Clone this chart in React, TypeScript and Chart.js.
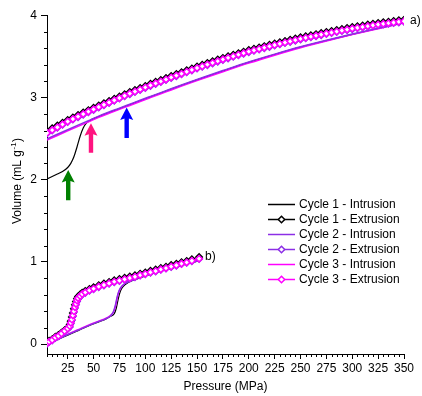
import React, { useEffect, useRef } from "react";
import { Chart, registerables } from "chart.js";

Chart.register(...registerables);

const FONT = '"Liberation Sans", Arial, sans-serif';

// ---------- axis ticks ----------
const X_MAJOR = [25, 50, 75, 100, 125, 150, 175, 200, 225, 250, 275, 300, 325, 350];
const Y_MAJOR = [0, 1, 2, 3, 4];

// ---------- series a) ----------
const P_EXT_A = [
  5, 10, 15, 20, 25, 30, 35, 40, 45, 50,
  55, 60, 65, 70, 75, 80, 85, 90, 95, 100,
  105, 110, 115, 120, 125, 130, 135, 140, 145, 150,
  155, 160, 165, 170, 175, 180, 185, 190, 195, 200,
  205, 210, 215, 220, 225, 230, 235, 240, 245, 250,
  255, 260, 265, 270, 275, 280, 285, 290, 295, 300,
  305, 310, 315, 320, 325, 330, 335, 340, 345, 350,
];
const C1_EXT_A = [
  2.595, 2.627, 2.66, 2.694, 2.728, 2.758, 2.788, 2.818, 2.848, 2.876,
  2.904, 2.932, 2.96, 2.987, 3.014, 3.041, 3.068, 3.093, 3.118, 3.143,
  3.168, 3.192, 3.216, 3.24, 3.264, 3.287, 3.31, 3.333, 3.356, 3.379,
  3.4, 3.421, 3.442, 3.463, 3.484, 3.503, 3.522, 3.541, 3.56, 3.579,
  3.595, 3.611, 3.627, 3.643, 3.659, 3.674, 3.689, 3.704, 3.719, 3.734,
  3.747, 3.76, 3.773, 3.786, 3.799, 3.811, 3.823, 3.835, 3.847, 3.859,
  3.869, 3.879, 3.889, 3.899, 3.909, 3.917, 3.925, 3.933, 3.941, 3.949,
];
const C2_EXT_A = [
  2.565, 2.6, 2.635, 2.669, 2.703, 2.733, 2.763, 2.793, 2.823, 2.851,
  2.879, 2.907, 2.935, 2.962, 2.989, 3.016, 3.043, 3.068, 3.093, 3.118,
  3.143, 3.167, 3.191, 3.215, 3.239, 3.262, 3.285, 3.308, 3.331, 3.354,
  3.375, 3.396, 3.417, 3.438, 3.459, 3.478, 3.497, 3.516, 3.535, 3.554,
  3.57, 3.586, 3.602, 3.618, 3.634, 3.649, 3.664, 3.679, 3.694, 3.709,
  3.722, 3.735, 3.748, 3.761, 3.774, 3.786, 3.798, 3.81, 3.822, 3.834,
  3.844, 3.854, 3.864, 3.874, 3.884, 3.892, 3.9, 3.908, 3.916, 3.924,
];
const C3_EXT_A = [
  2.57, 2.605, 2.64, 2.675, 2.71, 2.74, 2.77, 2.8, 2.83, 2.858,
  2.886, 2.914, 2.942, 2.969, 2.996, 3.023, 3.05, 3.075, 3.1, 3.125,
  3.15, 3.174, 3.198, 3.222, 3.246, 3.269, 3.292, 3.315, 3.338, 3.361,
  3.382, 3.403, 3.424, 3.445, 3.466, 3.485, 3.504, 3.523, 3.542, 3.561,
  3.577, 3.593, 3.609, 3.625, 3.641, 3.656, 3.671, 3.686, 3.701, 3.716,
  3.729, 3.742, 3.755, 3.768, 3.781, 3.793, 3.805, 3.817, 3.829, 3.841,
  3.851, 3.861, 3.871, 3.881, 3.891, 3.899, 3.907, 3.915, 3.923, 3.931,
];
const P_INT_A = [5, 15, 25, 35, 45, 55, 65, 75, 85, 95, 105, 120, 135, 150, 175, 200, 225, 250, 275, 300, 325, 350];
const C2_INT_A = [2.5, 2.555, 2.61, 2.665, 2.72, 2.775, 2.825, 2.872, 2.92, 2.968, 3.015, 3.085, 3.155, 3.222, 3.33, 3.435, 3.53, 3.62, 3.7, 3.775, 3.845, 3.915];
const C3_INT_A = [2.485, 2.54, 2.595, 2.65, 2.705, 2.76, 2.81, 2.858, 2.905, 2.953, 3.0, 3.07, 3.14, 3.207, 3.315, 3.42, 3.517, 3.608, 3.69, 3.767, 3.84, 3.912];
const P_C1_INT_A = [5, 10, 15, 20, 25, 28, 31, 34, 37, 40, 43, 47, 50, 55, 65, 75, 85, 95, 105, 120, 135, 150, 175, 200, 225, 250, 275, 300, 325, 350];
const C1_INT_A = [2.01, 2.04, 2.07, 2.1, 2.15, 2.2, 2.28, 2.4, 2.53, 2.63, 2.69, 2.725, 2.745, 2.77, 2.82, 2.866, 2.914, 2.962, 3.01, 3.08, 3.15, 3.217, 3.325, 3.43, 3.525, 3.615, 3.695, 3.77, 3.842, 3.913];

// ---------- series b) ----------
const P_EXT_B = [5, 7, 10, 13, 16, 19, 22, 25, 27, 28, 29, 30, 31, 32, 33, 34, 35, 37, 39, 42, 46, 50, 55, 60, 65, 70, 75, 80, 85, 90, 95, 100, 105, 110, 115, 120, 125, 130, 135, 140, 145, 152];
const C1_EXT_B = [0.02, 0.04, 0.06, 0.09, 0.11, 0.14, 0.17, 0.2, 0.24, 0.28, 0.33, 0.38, 0.43, 0.48, 0.52, 0.555, 0.58, 0.605, 0.625, 0.648, 0.672, 0.692, 0.717, 0.737, 0.757, 0.776, 0.792, 0.807, 0.822, 0.838, 0.857, 0.872, 0.892, 0.907, 0.927, 0.942, 0.962, 0.977, 0.997, 1.012, 1.032, 1.06];
const C2_EXT_B = [0.005, 0.025, 0.045, 0.075, 0.095, 0.125, 0.155, 0.185, 0.21, 0.25, 0.29, 0.34, 0.39, 0.44, 0.48, 0.52, 0.55, 0.578, 0.603, 0.624, 0.649, 0.669, 0.694, 0.714, 0.734, 0.754, 0.77, 0.785, 0.8, 0.815, 0.835, 0.85, 0.87, 0.885, 0.905, 0.92, 0.94, 0.955, 0.975, 0.99, 1.01, 1.035];
const C3_EXT_B = [0.01, 0.03, 0.05, 0.08, 0.1, 0.13, 0.16, 0.19, 0.22, 0.26, 0.3, 0.35, 0.4, 0.45, 0.49, 0.53, 0.56, 0.585, 0.61, 0.63, 0.655, 0.675, 0.7, 0.72, 0.74, 0.76, 0.775, 0.79, 0.805, 0.82, 0.84, 0.855, 0.875, 0.89, 0.91, 0.925, 0.945, 0.96, 0.98, 0.995, 1.015, 1.04];
const P_INT_B = [5, 15, 25, 35, 45, 55, 62, 66, 69, 71, 72.5, 74, 76, 80, 90, 100, 110, 120, 130, 140, 152];
const C2_INT_B = [-0.005, 0.055, 0.115, 0.17, 0.225, 0.275, 0.31, 0.34, 0.39, 0.47, 0.56, 0.63, 0.685, 0.735, 0.79, 0.835, 0.875, 0.91, 0.945, 0.98, 1.02];
const C3_INT_B = [0.0, 0.06, 0.12, 0.175, 0.23, 0.28, 0.315, 0.345, 0.385, 0.45, 0.54, 0.62, 0.68, 0.735, 0.79, 0.835, 0.875, 0.91, 0.945, 0.98, 1.02];
const P_C1_INT_B = [5, 15, 25, 35, 45, 55, 62, 66, 70, 72, 73.5, 75, 77, 81, 90, 100, 110, 120, 130, 140, 152];
const C1_INT_B = [0.0, 0.055, 0.11, 0.165, 0.22, 0.27, 0.305, 0.335, 0.37, 0.44, 0.53, 0.61, 0.675, 0.73, 0.785, 0.83, 0.87, 0.905, 0.94, 0.975, 1.015];

// ---------- legend & annotations ----------
const LEGEND_LABELS = [
  "Cycle 1 - Intrusion",
  "Cycle 1 - Extrusion",
  "Cycle 2 - Intrusion",
  "Cycle 2 - Extrusion",
  "Cycle 3 - Intrusion",
  "Cycle 3 - Extrusion",
];
const BLACK = "#000000";
const VIOLET = "#8c2ee6";
const MAGENTA = "#ff00ff";
const LEGEND_COLORS = [BLACK, BLACK, VIOLET, VIOLET, MAGENTA, MAGENTA];
const LEGEND_MARKER = [false, true, false, true, false, true];

const ARROW_P = [25.5, 47.5, 82];
const ARROW_TIP = [2.12, 2.69, 2.88];
const ARROW_BASE = [1.75, 2.33, 2.51];
const ARROW_COLORS = ["#008000", "#ff1480", "#0000ff"];

const PANEL_LABELS = ["a)", "b)"];
const PANEL_P = [350, 152];
const PANEL_V = [3.94, 1.07];

const pts = (xs: number[], ys: number[]) => xs.map((x, i) => ({ x, y: ys[i] }));

function lineDs(xs: number[], ys: number[], color: string, order: number, width = 1.5) {
  return {
    data: pts(xs, ys),
    showLine: true,
    borderColor: color,
    backgroundColor: color,
    borderWidth: width,
    pointRadius: 0,
    cubicInterpolationMode: "monotone" as const,
    order,
  };
}
function extDs(xs: number[], ys: number[], color: string, order: number) {
  return {
    data: pts(xs, ys),
    showLine: true,
    borderColor: color,
    backgroundColor: "#ffffff",
    borderWidth: 1.5,
    pointStyle: "rectRot" as const,
    pointRadius: 3.2,
    pointBorderWidth: 1.5,
    pointBorderColor: color,
    pointBackgroundColor: "#ffffff",
    cubicInterpolationMode: "monotone" as const,
    order,
  };
}

const decor = {
  id: "decor",
  afterDraw(chart: any) {
    const ctx = chart.ctx as CanvasRenderingContext2D;
    const xs = chart.scales.x;
    const ys = chart.scales.y;
    const area = chart.chartArea;
    ctx.save();
    // minor ticks
    ctx.strokeStyle = "#000";
    ctx.lineWidth = 1;
    ctx.beginPath();
    for (let v = 5; v <= 350; v += 5) {
      if (v % 25 === 0) continue;
      const px = Math.round(xs.getPixelForValue(v)) + 0.5;
      ctx.moveTo(px, area.bottom);
      ctx.lineTo(px, area.bottom + 3);
    }
    for (let k = 1; k < 20; k++) {
      if (k % 5 === 0) continue;
      const py = Math.round(ys.getPixelForValue(k * 0.2)) + 0.5;
      ctx.moveTo(area.left, py);
      ctx.lineTo(area.left - 3, py);
    }
    ctx.stroke();

    // arrows
    for (let i = 0; i < ARROW_P.length; i++) {
      const x = xs.getPixelForValue(ARROW_P[i]);
      const yt = ys.getPixelForValue(ARROW_TIP[i]);
      const yb = ys.getPixelForValue(ARROW_BASE[i]);
      const hw = 6.5, hl = 12.5, sw = 2.2;
      ctx.fillStyle = ARROW_COLORS[i];
      ctx.beginPath();
      ctx.moveTo(x, yt);
      ctx.lineTo(x + hw, yt + hl);
      ctx.lineTo(x + sw, yt + hl - 1.5);
      ctx.lineTo(x + sw, yb);
      ctx.lineTo(x - sw, yb);
      ctx.lineTo(x - sw, yt + hl - 1.5);
      ctx.lineTo(x - hw, yt + hl);
      ctx.closePath();
      ctx.fill();
    }

    // panel labels
    ctx.fillStyle = "#000";
    ctx.font = `12px ${FONT}`;
    ctx.textAlign = "left";
    ctx.textBaseline = "middle";
    for (let i = 0; i < PANEL_LABELS.length; i++) {
      ctx.fillText(PANEL_LABELS[i], xs.getPixelForValue(PANEL_P[i]) + 6, ys.getPixelForValue(PANEL_V[i]));
    }

    // legend
    const lx0 = 268, lx1 = 295, tx = 299, ly0 = 204.5, dy = 15;
    for (let i = 0; i < LEGEND_LABELS.length; i++) {
      const y = ly0 + i * dy;
      ctx.strokeStyle = LEGEND_COLORS[i];
      ctx.lineWidth = 1.5;
      ctx.beginPath();
      ctx.moveTo(lx0, y);
      ctx.lineTo(lx1, y);
      ctx.stroke();
      if (LEGEND_MARKER[i]) {
        const cx = (lx0 + lx1) / 2, r = 3.2;
        ctx.fillStyle = "#fff";
        ctx.beginPath();
        ctx.moveTo(cx, y - r);
        ctx.lineTo(cx + r, y);
        ctx.lineTo(cx, y + r);
        ctx.lineTo(cx - r, y);
        ctx.closePath();
        ctx.fill();
        ctx.stroke();
      }
      ctx.fillStyle = "#000";
      ctx.fillText(LEGEND_LABELS[i], tx, y + 0.5);
    }

    // x title
    ctx.textAlign = "center";
    ctx.fillText("Pressure (MPa)", (area.left + area.right) / 2, 387);

    // y title with superscript
    const main = "Volume (mL g";
    const sup = "-1";
    const close = ")";
    ctx.font = `12px ${FONT}`;
    const w1 = ctx.measureText(main).width;
    const w3 = ctx.measureText(close).width;
    ctx.font = `8px ${FONT}`;
    const w2 = ctx.measureText(sup).width;
    const total = w1 + w2 + w3 + 1;
    ctx.translate(18, 181);
    ctx.rotate(-Math.PI / 2);
    ctx.textAlign = "left";
    let x0 = -total / 2;
    ctx.font = `12px ${FONT}`;
    ctx.fillText(main, x0, 0);
    ctx.font = `8px ${FONT}`;
    ctx.fillText(sup, x0 + w1 + 0.5, -4);
    ctx.font = `12px ${FONT}`;
    ctx.fillText(close, x0 + w1 + w2 + 1, 0);
    ctx.restore();
  },
};

export default function App() {
  const ref = useRef<HTMLCanvasElement | null>(null);
  useEffect(() => {
    document.body.style.margin = "0";
    if (!ref.current) return;
    const datasets: any[] = [
      extDs(P_EXT_B, C3_EXT_B, MAGENTA, 0),
      extDs(P_EXT_A, C3_EXT_A, MAGENTA, 0),
      extDs(P_EXT_B, C2_EXT_B, VIOLET, 1),
      extDs(P_EXT_A, C2_EXT_A, VIOLET, 1),
      extDs(P_EXT_B, C1_EXT_B, BLACK, 2),
      extDs(P_EXT_A, C1_EXT_A, BLACK, 2),
      lineDs(P_INT_A, C2_INT_A, VIOLET, 3),
      lineDs(P_INT_B, C2_INT_B, VIOLET, 3),
      lineDs(P_INT_A, C3_INT_A, MAGENTA, 4),
      lineDs(P_INT_B, C3_INT_B, MAGENTA, 4),
      lineDs(P_C1_INT_A, C1_INT_A, BLACK, 5, 1.2),
      lineDs(P_C1_INT_B, C1_INT_B, BLACK, 5, 1.2),
    ];
    const chart = new Chart(ref.current, {
      type: "scatter",
      data: { datasets },
      options: {
        responsive: false,
        animation: false,
        events: [],
        layout: { padding: { left: 0, top: 15.5, right: 18, bottom: 0 } },
        plugins: { legend: { display: false }, tooltip: { enabled: false } },
        scales: {
          x: {
            type: "linear",
            min: 5,
            max: 350,
            afterBuildTicks: (s: any) => {
              s.ticks = X_MAJOR.map((v) => ({ value: v }));
            },
            afterFit: (s: any) => {
              s.height = 42;
            },
            ticks: {
              autoSkip: false,
              maxRotation: 0,
              padding: 2,
              color: "#000",
              font: { family: FONT, size: 12 },
            },
            grid: { drawOnChartArea: false, drawTicks: true, tickLength: 5, tickColor: "#000", color: "#000" },
            border: { color: "#000", width: 1 },
          },
          y: {
            type: "linear",
            min: -0.12,
            max: 4,
            afterBuildTicks: (s: any) => {
              s.ticks = Y_MAJOR.map((v) => ({ value: v }));
            },
            afterFit: (s: any) => {
              s.width = 47;
            },
            ticks: {
              autoSkip: false,
              padding: 4,
              color: "#000",
              font: { family: FONT, size: 12 },
            },
            grid: { drawOnChartArea: false, drawTicks: true, tickLength: 6, tickColor: "#000", color: "#000" },
            border: { color: "#000", width: 1 },
          },
        },
      },
      plugins: [decor],
    });
    return () => chart.destroy();
  }, []);
  return (
    <div style={{ width: 422, height: 396 }}>
      <canvas ref={ref} width={422} height={396} style={{ display: "block" }} />
    </div>
  );
}
